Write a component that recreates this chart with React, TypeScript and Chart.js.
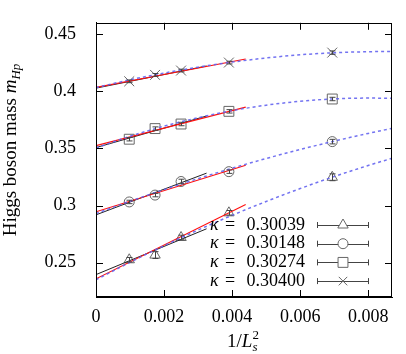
import React, { useEffect, useRef } from 'react';
import { Chart, registerables } from 'chart.js';
import { drawPoint } from 'chart.js/helpers';
Chart.register(...registerables);

// ---- data ----
const xPoints = [0.000977, 0.001736, 0.0025, 0.003906, 0.006944];
const kappaLabels = ['0.30039', '0.30148', '0.30274', '0.30400'];
const markerStyles = ['triangle', 'circle', 'rect', 'crossRot'];

const mTri = [0.2526, 0.2567, 0.2721, 0.2937, 0.3248];
const mCirc = [0.3032, 0.3092, 0.3211, 0.3297, 0.356];
const mSq = [0.3581, 0.3674, 0.3714, 0.3825, 0.3933];
const mCross = [0.4088, 0.4144, 0.4182, 0.4252, 0.4339];

const errTri = [0.002, 0.003, 0.002, 0.002, 0.003];
const errCirc = [0.0015, 0.0015, 0.002, 0.0015, 0.002];
const errSq = [0.0015, 0.0015, 0.0015, 0.0015, 0.0015];
const errCross = [0.0012, 0.0012, 0.0012, 0.0012, 0.0015];

const curveX = [0, 0.001, 0.002, 0.003, 0.004, 0.005, 0.006, 0.007, 0.008, 0.0087];
const curveTri = [0.2351, 0.2504, 0.2649, 0.2786, 0.2915, 0.3036, 0.3149, 0.3254, 0.3351, 0.3414];
const curveCirc = [0.293, 0.3038, 0.314, 0.3236, 0.3327, 0.3412, 0.3491, 0.3564, 0.3632, 0.3676];
const curveSq = [0.3505, 0.3607, 0.3695, 0.3769, 0.3831, 0.3879, 0.3913, 0.3934, 0.3941, 0.3939];
const curveCross = [0.4033, 0.4101, 0.416, 0.4212, 0.4256, 0.4292, 0.432, 0.4338, 0.4347, 0.4349];

const redX = [0, 0.0044];
const redTri = [0.2359, 0.301];
const redCirc = [0.2946, 0.3353];
const redSq = [0.3525, 0.3862];
const redCross = [0.4035, 0.4283];

const blackX = [0, 0.00325];
const blackTri = [0.2396, 0.2797];
const blackCirc = [0.2919, 0.3284];
const blackSq = [0.3508, 0.3784];
const blackCross = [0.4028, 0.4222];

const xTickValues = [0, 0.002, 0.004, 0.006, 0.008];
const xTickLabels = ['0', '0.002', '0.004', '0.006', '0.008'];
const yTickValues = [0.25, 0.3, 0.35, 0.4, 0.45];
const yTickLabels = ['0.25', '0.3', '0.35', '0.4', '0.45'];

const SERIF = "'Liberation Serif', 'Times New Roman', serif";

const pts = (xs: number[], ys: number[]) => xs.map((x, i) => ({ x, y: ys[i] }));

const markerSeries = [mTri, mCirc, mSq, mCross];
const errSeries = [errTri, errCirc, errSq, errCross];
const curveSeries = [curveTri, curveCirc, curveSq, curveCross];
const redSeries = [redTri, redCirc, redSq, redCross];
const blackSeries = [blackTri, blackCirc, blackSq, blackCross];
const markerRadius: Record<string, number> = { triangle: 6, circle: 5, rect: 7, crossRot: 7 };

function drawRich(ctx: CanvasRenderingContext2D, parts: any[], x: number, y: number) {
  let total = 0;
  const widths: number[] = [];
  parts.forEach((p) => {
    ctx.font = p.font;
    widths.push(ctx.measureText(p.text).width);
  });
  let i = 0;
  while (i < parts.length) {
    if (i + 1 < parts.length && parts[i + 1].stack) {
      total += Math.max(widths[i], widths[i + 1]);
      i += 2;
    } else {
      total += widths[i];
      i += 1;
    }
  }
  let cx = x - total / 2;
  ctx.textAlign = 'left';
  ctx.textBaseline = 'alphabetic';
  i = 0;
  while (i < parts.length) {
    const p = parts[i];
    ctx.font = p.font;
    ctx.fillText(p.text, cx, y + (p.dy || 0));
    if (i + 1 < parts.length && parts[i + 1].stack) {
      const q = parts[i + 1];
      ctx.font = q.font;
      ctx.fillText(q.text, cx, y + (q.dy || 0));
      cx += Math.max(widths[i], widths[i + 1]);
      i += 2;
    } else {
      cx += widths[i];
      i += 1;
    }
  }
}

const decorPlugin = {
  id: 'decor',
  afterDatasetsDraw(chart: any) {
    const ctx = chart.ctx;
    const xs = chart.scales.x;
    const ys = chart.scales.y;
    ctx.save();
    chart.data.datasets.forEach((ds: any) => {
      if (!ds.errs) return;
      ctx.strokeStyle = '#444';
      ctx.lineWidth = 1;
      ds.data.forEach((p: any, i: number) => {
        const px = Math.round(xs.getPixelForValue(p.x)) + 0.5;
        const y1 = ys.getPixelForValue(p.y - ds.errs[i]);
        const y2 = ys.getPixelForValue(p.y + ds.errs[i]);
        ctx.beginPath();
        ctx.moveTo(px, y1);
        ctx.lineTo(px, y2);
        ctx.moveTo(px - 3, y1);
        ctx.lineTo(px + 3, y1);
        ctx.moveTo(px - 3, y2);
        ctx.lineTo(px + 3, y2);
        ctx.stroke();
      });
    });
    ctx.restore();
  },
  afterDraw(chart: any) {
    const ctx = chart.ctx;
    const a = chart.chartArea;
    const xs = chart.scales.x;
    const ys = chart.scales.y;
    ctx.save();
    ctx.strokeStyle = '#000';
    ctx.lineWidth = 1;
    ctx.strokeRect(Math.round(a.left) + 0.5, Math.round(a.top) + 0.5, Math.round(a.right - a.left) - 1, Math.round(a.bottom - a.top) - 1);
    const tl = 7;
    ctx.beginPath();
    xTickValues.forEach((v) => {
      const px = Math.round(xs.getPixelForValue(v)) + 0.5;
      ctx.moveTo(px, a.bottom);
      ctx.lineTo(px, a.bottom - tl);
      ctx.moveTo(px, a.top);
      ctx.lineTo(px, a.top + tl);
    });
    yTickValues.forEach((v) => {
      const py = Math.round(ys.getPixelForValue(v)) + 0.5;
      ctx.moveTo(a.left, py);
      ctx.lineTo(a.left + tl, py);
      ctx.moveTo(a.right, py);
      ctx.lineTo(a.right - tl, py);
    });
    ctx.stroke();

    // legend
    ctx.fillStyle = '#000';
    kappaLabels.forEach((lab, i) => {
      const y = 225 + i * 18.7;
      ctx.textBaseline = 'middle';
      ctx.font = `italic 18px ${SERIF}`;
      ctx.textAlign = 'left';
      ctx.fillText('κ', 210, y);
      ctx.font = `18px ${SERIF}`;
      ctx.fillText('=', 225, y);
      ctx.textAlign = 'right';
      ctx.fillText(lab, 305, y);
      ctx.strokeStyle = '#444';
      ctx.lineWidth = 1;
      ctx.beginPath();
      ctx.moveTo(317, Math.round(y) + 0.5);
      ctx.lineTo(369, Math.round(y) + 0.5);
      ctx.moveTo(317.5, y - 3);
      ctx.lineTo(317.5, y + 3);
      ctx.moveTo(368.5, y - 3);
      ctx.lineTo(368.5, y + 3);
      ctx.stroke();
      ctx.fillStyle = 'rgba(255,255,255,1)';
      ctx.strokeStyle = '#666';
      const st = markerStyles[i];
      drawPoint(ctx, { pointStyle: st, radius: markerRadius[st] - (st === 'crossRot' ? 1 : 0), rotation: 0, borderWidth: 1 } as any, 343, y);
      ctx.fillStyle = '#000';
    });

    // axis titles
    ctx.fillStyle = '#000';
    drawRich(ctx, [
      { text: '1/', font: `19px ${SERIF}` },
      { text: 'L', font: `italic 19px ${SERIF}` },
      { text: 's', font: `italic 13px ${SERIF}`, dy: 4 },
      { text: '2', font: `13px ${SERIF}`, dy: -8, stack: true },
    ], 243, 347);

    ctx.save();
    ctx.translate(16, 150);
    ctx.rotate(-Math.PI / 2);
    drawRich(ctx, [
      { text: 'Higgs boson mass ', font: `19px ${SERIF}` },
      { text: 'm', font: `italic 19px ${SERIF}` },
      { text: 'Hp', font: `italic 13px ${SERIF}`, dy: 4 },
    ], 0, 0);
    ctx.restore();
    ctx.restore();
  },
};

export default function App() {
  const ref = useRef<HTMLCanvasElement | null>(null);
  useEffect(() => {
    if (!ref.current) return;
    const datasets: any[] = [];
    curveSeries.forEach((ys) => {
      datasets.push({
        data: pts(curveX, ys),
        showLine: true,
        borderColor: 'rgba(100,100,240,0.9)',
        borderWidth: 1.5,
        borderDash: [3, 3],
        pointRadius: 0,
        cubicInterpolationMode: 'monotone',
        fill: false,
      });
    });
    redSeries.forEach((ys) => {
      datasets.push({ data: pts(redX, ys), showLine: true, borderColor: '#ff1010', borderWidth: 1.2, pointRadius: 0 });
    });
    blackSeries.forEach((ys) => {
      datasets.push({ data: pts(blackX, ys), showLine: true, borderColor: '#222', borderWidth: 1, pointRadius: 0 });
    });
    markerSeries.forEach((ys, i) => {
      const st = markerStyles[i];
      datasets.push({
        label: 'κ = ' + kappaLabels[i],
        data: pts(xPoints, ys),
        errs: errSeries[i],
        showLine: false,
        pointStyle: st,
        pointRadius: markerRadius[st],
        pointBorderColor: '#666',
        pointBackgroundColor: 'rgba(0,0,0,0)',
        pointBorderWidth: 1,
      });
    });

    const chart = new Chart(ref.current, {
      type: 'scatter',
      data: { datasets },
      plugins: [decorPlugin],
      options: {
        responsive: false,
        animation: false,
        events: [],
        layout: { padding: { left: 0, top: 1, right: 14, bottom: 0 } },
        plugins: { legend: { display: false }, tooltip: { enabled: false } },
        scales: {
          x: {
            type: 'linear',
            min: 0,
            max: 0.0087,
            afterFit: (s: any) => { s.height = 57; },
            afterBuildTicks: (s: any) => { s.ticks = xTickValues.map((v) => ({ value: v })); },
            grid: { display: false },
            border: { display: true, color: '#000' },
            ticks: {
              padding: 1,
              color: '#000',
              font: { family: SERIF, size: 18 },
              maxRotation: 0,
              callback: (_v: any, i: number) => xTickLabels[i],
            },
          },
          y: {
            type: 'linear',
            min: 0.22,
            max: 0.46,
            afterFit: (s: any) => { s.width = 96; },
            afterBuildTicks: (s: any) => { s.ticks = yTickValues.map((v) => ({ value: v })); },
            grid: { display: false },
            border: { display: true, color: '#000' },
            ticks: {
              padding: 12,
              color: '#000',
              font: { family: SERIF, size: 18 },
              callback: (_v: any, i: number) => yTickLabels[i],
            },
          },
        },
      } as any,
    });
    return () => chart.destroy();
  }, []);
  return (
    <div style={{ position: 'fixed', left: 0, top: 0, width: 406, height: 354, background: '#fff' }}>
      <canvas ref={ref} width={406} height={354} style={{ width: 406, height: 354, display: 'block' }} />
    </div>
  );
}
